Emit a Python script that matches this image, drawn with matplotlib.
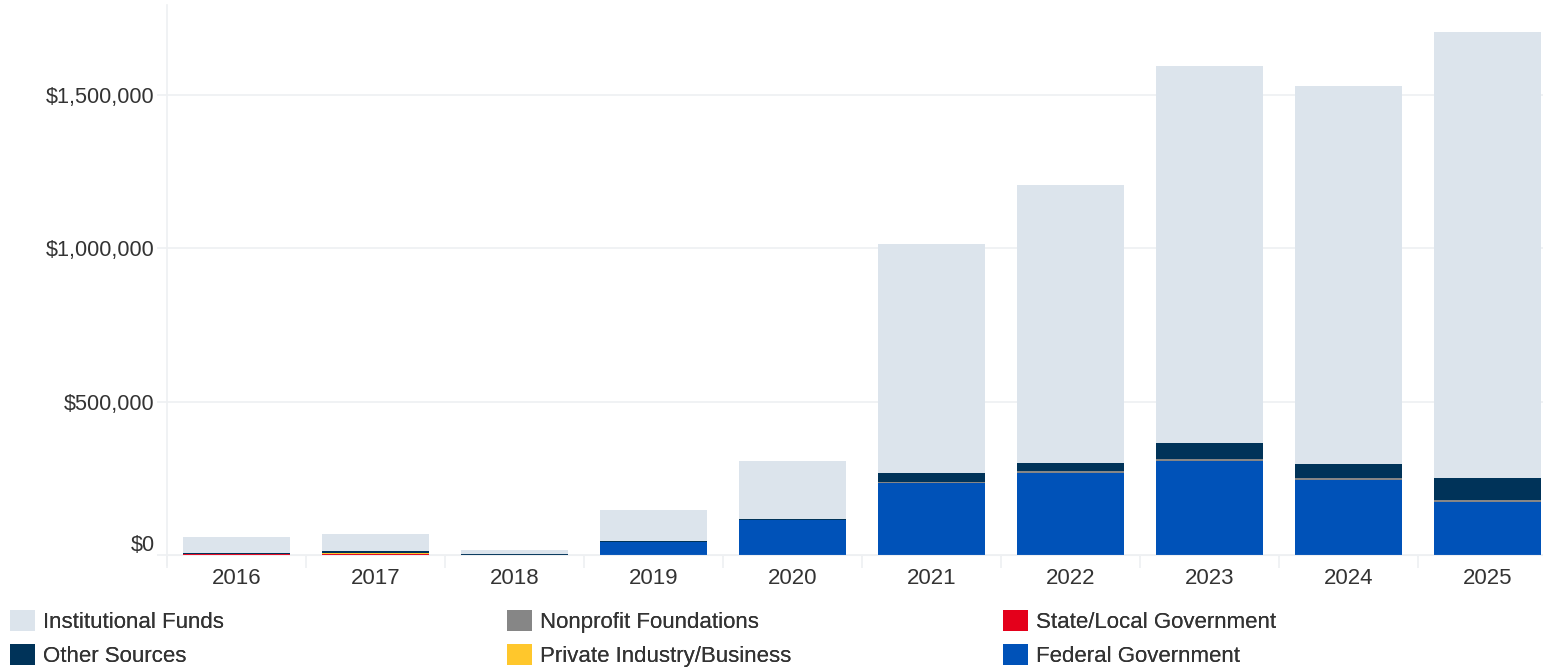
#!/usr/bin/env python3
"""Stacked research funding by source, 2016-2025."""

import numpy as np
import matplotlib
matplotlib.use("Agg")
import matplotlib.pyplot as plt
from matplotlib.patches import Patch
from matplotlib.ticker import FuncFormatter
from matplotlib.transforms import ScaledTranslation

plt.rcParams["font.family"] = ["Liberation Sans", "DejaVu Sans"]

# ── data ─────────────────────────────────────────────────────────────────────
years = ["2016", "2017", "2018", "2019", "2020",
         "2021", "2022", "2023", "2024", "2025"]

federal       = [0,     0,     0,     44000,  115000, 236000, 268000, 308000, 246000, 174000]
state_local   = [4000,  4000,  0,     0,      0,      0,      0,      0,      0,      0]
private_ind   = [0,     1500,  0,     0,      0,      0,      0,      0,      0,      0]
nonprofit     = [0,     0,     0,     0,      0,      3000,   5000,   5000,   5000,   5000]
other_sources = [2000,  6000,  4000,  2000,   1500,   28000,  26000,  52000,  46000,  72000]
institutional = [53000, 57000, 12000, 100000, 190000, 747000, 908000, 1230000, 1232000, 1455000]

# stacked bottom → top
series = [
    ("Federal Government",        federal,       "#0052b8"),
    ("State/Local Government",    state_local,   "#e4001b"),
    ("Private Industry/Business", private_ind,   "#ffc72c"),
    ("Nonprofit Foundations",     nonprofit,     "#868686"),
    ("Other Sources",             other_sources, "#003359"),
    ("Institutional Funds",       institutional, "#dce4ec"),
]

# legend columns, left to right
legend_cols = [["Institutional Funds", "Other Sources"],
               ["Nonprofit Foundations", "Private Industry/Business"],
               ["State/Local Government", "Federal Government"]]

# ── plot ─────────────────────────────────────────────────────────────────────
W, H = 1543, 669
fig = plt.figure(figsize=(W / 100, H / 100), dpi=100)
# axes runs a little past the right edge, as in the original
ax = fig.add_axes([167 / W, (H - 565) / H, (1557 - 167) / W, (565 - 5) / H])

x = np.arange(len(years))
bottom = np.zeros(len(years))
colors = {}
for name, vals, col in series:
    vals = np.array(vals, dtype=float)
    ax.bar(x, vals, bottom=bottom, width=0.765, color=col,
           linewidth=0, zorder=2)
    bottom += vals
    colors[name] = col

grid_c = "#eef0f2"
ax.set_ylim(-32600, 1.793e6)
ax.set_xlim(-0.5, len(years) - 0.5)

ax.set_yticks([0, 500000, 1000000, 1500000])
ax.yaxis.set_major_formatter(FuncFormatter(lambda v, p: f"${v:,.0f}"))
ax.grid(True, axis="y", color=grid_c, linewidth=1.2, zorder=0)
ax.tick_params(axis="y", length=7, color=grid_c, width=1.2,
               labelsize=15.6, labelcolor="#333333", pad=2)

ax.set_xticks(x)
ax.set_xticklabels(years)
ax.set_xticks(np.arange(len(years) + 1) - 0.5, minor=True)
ax.tick_params(axis="x", which="major", length=0, labelsize=16,
               labelcolor="#333333", pad=9)
ax.tick_params(axis="x", which="minor", length=9, color=grid_c, width=1.2)

for s in ("top", "right"):
    ax.spines[s].set_visible(False)
ax.spines["bottom"].set_position(("data", 0))
ax.spines["bottom"].set_color(grid_c)
ax.spines["left"].set_color(grid_c)
ax.spines["left"].set_linewidth(1.2)

# the $0 label sits a bit above its gridline
fig.canvas.draw()
lab0 = ax.get_yticklabels()[0]
lab0.set_transform(lab0.get_transform()
                   + ScaledTranslation(0, 0.12, fig.dpi_scale_trans))

for col_x, names in zip([10, 507, 1003], legend_cols):
    handles = [Patch(facecolor=colors[n], edgecolor="none") for n in names]
    leg = fig.legend(handles, names, loc="upper left",
                     bbox_to_anchor=(col_x / W, 1 - 610 / H),
                     frameon=False, fontsize=16, borderpad=0,
                     borderaxespad=0, handlelength=1.12, handleheight=1.08,
                     handletextpad=0.36, labelspacing=0.5,
                     labelcolor="#333333")
    fig.add_artist(leg)

fig.savefig("out.png", dpi=100)
plt.close(fig)
